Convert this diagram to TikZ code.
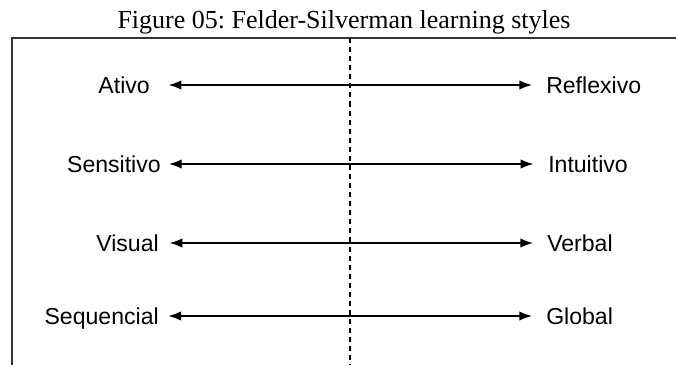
\documentclass[tikz,border=0pt]{standalone}
\usepackage{fontspec}
\setmainfont{Liberation Serif}
\setsansfont{Liberation Sans}
\usetikzlibrary{arrows.meta}
\frenchspacing
\begin{document}
\begin{tikzpicture}[x=0.75pt,y=-0.75pt,
  lab/.style={font=\sffamily\fontsize{17.3}{20}\selectfont, inner sep=0pt, text height=12.4pt, text depth=0pt},
  pair/.style={{Latex[length=9.5pt,width=7pt]}-{Latex[length=9.5pt,width=7pt]}, line width=1pt},
  frame/.style={line width=1.4pt, draw=black!80},
  divider/.style={line width=1.2pt, dash pattern=on 3.8pt off 3pt}]
\useasboundingbox (0,0) rectangle (676,365);
\node[font=\fontsize{19.5}{22}\selectfont, inner sep=0pt, anchor=base] (title) at (344,28) {Figure 05: Felder-Silverman learning styles};
\coordinate (tl) at (12,38);
\coordinate (tr) at (676,38);
\coordinate (bl) at (12,365);
\coordinate (dt) at (350,38);
\coordinate (db) at (350,365);
\draw[frame] (tr) -- (tl) -- (bl);
\draw[divider] (dt) -- (db);
% left labels
\node[lab, anchor=east] (ativo) at (150,85) {Ativo};
\node[lab, anchor=east] (sens) at (161,164) {Sensitivo};
\node[lab, anchor=east] (visual) at (159,243) {Visual};
\node[lab, anchor=east] (seq) at (159,316) {Sequencial};
% right labels
\node[lab, anchor=west] (refl) at (546,85) {Reflexivo};
\node[lab, anchor=west] (intu) at (548,164) {Intuitivo};
\node[lab, anchor=west] (verb) at (547,243) {Verbal};
\node[lab, anchor=west] (glob) at (546,316) {Global};
% arrows
\draw[pair, shorten <=14pt, shorten >=10.5pt] (ativo.east) -- (refl.west);
\draw[pair, shorten <=6pt, shorten >=11pt] (sens.east) -- (intu.west);
\draw[pair, shorten <=8pt, shorten >=10.5pt] (visual.east) -- (verb.west);
\draw[pair, shorten <=7pt, shorten >=10.5pt] (seq.east) -- (glob.west);
\end{tikzpicture}
\end{document}
